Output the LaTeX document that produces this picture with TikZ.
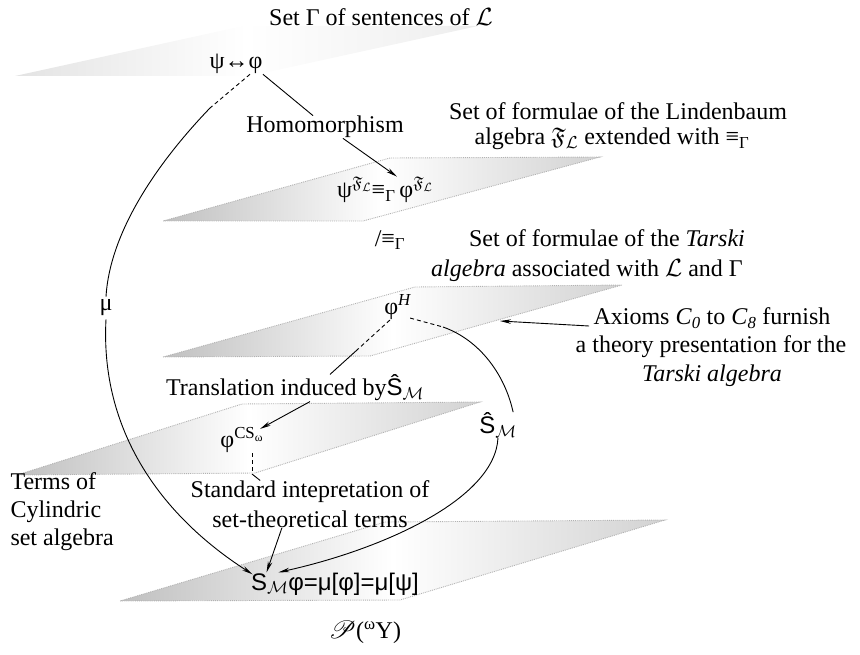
\documentclass[tikz,border=0pt]{standalone}
\usepackage{amssymb}
\usepackage{mathrsfs}
\usepackage{fontspec}
\setmainfont{Liberation Serif}
\newfontfamily\sansS{Liberation Sans}
\usetikzlibrary{arrows.meta,calc}
\begin{document}
\begin{tikzpicture}[x=1pt,y=-1pt,
  lbl/.style={font=\fontsize{24}{28}\selectfont, inner sep=0.3pt},
  planefill/.style={left color=gray!50, right color=gray!35, middle color=white},
  faintfill/.style={left color=gray!22, right color=gray!14, middle color=white},
  planeedge/.style={draw=gray!60, densely dotted, line width=0.9pt},
  conn/.style={line width=0.9pt},
  dsh/.style={conn, dash pattern=on 4pt off 3pt},
  arr/.style={conn, -{Stealth[length=11pt,width=4.5pt]}},
]
\useasboundingbox (0,0) rectangle (860,655);

% planes
\shade[faintfill] (15,76) -- (250,76) -- (478,26) -- (243,26) -- cycle;
\shade[planefill] (163,221) -- (363,221) -- (600,157) -- (390,158) -- cycle;
\draw[planeedge] (163,221) -- (363,221) -- (600,157) -- (390,158) -- cycle;
\shade[planefill] (163,357) -- (370,356) -- (622,285) -- (415,287) -- cycle;
\draw[planeedge] (163,357) -- (370,356) -- (622,285) -- (415,287) -- cycle;
\shade[planefill] (17,475) -- (255,473) -- (480,402) -- (242,404) -- cycle;
\draw[planeedge] (17,475) -- (255,473) -- (480,402) -- (242,404) -- cycle;
\shade[planefill] (120,601) -- (400,600) -- (665,520) -- (385,522) -- cycle;
\draw[planeedge] (120,601) -- (400,600) -- (665,520) -- (385,522) -- cycle;

% labels
\node[lbl] (title) at (381,17) {Set Γ of sentences of $\mathcal{L}$};
\node[lbl] (top) at (236,64) {ψ↔φ};
\node[lbl] (homo) at (325,127) {Homomorphism};
\node[lbl] (lind1) at (618,111) {Set of formulae of the Lindenbaum};
\node[lbl] (lind2) at (612,139) {algebra $\mathfrak{F}_{\mathcal{L}}$ extended with ≡\textsubscript{Γ}};
\node[lbl] (eqF) at (385,190) {ψ\textsuperscript{$\mathfrak{F}_{\mathcal{L}}$}≡\textsubscript{Γ}\,φ\textsuperscript{$\mathfrak{F}_{\mathcal{L}}$}};
\node[lbl] (quot) at (390,240) {/≡\textsubscript{Γ}};
\node[lbl] (tar1) at (607,238) {Set of formulae of the \textit{Tarski}};
\node[lbl] (tar2) at (587,271) {\textit{algebra} associated with $\mathcal{L}$ and Γ};
\node[lbl] (phiH) at (398,307) {φ\textsuperscript{\textit{H}}};
\node[lbl, fill=white, inner sep=3pt] (mu) at (106,308) {μ};
\node[lbl] (ax1) at (712,318) {Axioms \textit{C}\textsubscript{\textit{0}} to \textit{C}\textsubscript{\textit{8}} furnish};
\node[lbl] (ax2) at (711,347) {a theory presentation for the};
\node[lbl] (ax3) at (712,376) {\textit{Tarski algebra}};
\node[lbl] (transl) at (295,388) {Translation induced by{\sansS Ŝ}\textsubscript{$\mathcal{M}$}};
\node[lbl] (phiCS) at (242,440) {φ\textsuperscript{CS\textsubscript{ω}}};
\node[lbl] (Shat) at (498,425) {{\sansS Ŝ}\textsubscript{$\mathcal{M}$}};
\node[lbl, align=left, anchor=north west] (terms) at (10,472) {Terms of\\Cylindric\\set algebra};
\node[lbl] (std1) at (310,492) {Standard intepretation of};
\node[lbl] (std2) at (310,519) {set-theoretical terms};
\node[lbl] (SM) at (335,584) {{\sansS S}\textsubscript{$\mathcal{M}$}{\sansS φ=μ[φ]=μ[ψ]}};
\node[lbl] (PY) at (365,632) {$\mathscr{P}$(\textsuperscript{ω}Y)};

% break points
\coordinate (m1) at (210,108);
\coordinate (t1) at (357,350);
\coordinate (s1) at (443,327);
\coordinate (c1) at (252,474);
\coordinate (axtip) at (500,321);

% mu curve
\draw[dsh] ($(top.south)+(14,0)$) -- (m1);
\draw[conn] (m1) .. controls (160,160) and (110,230) .. (mu.north);
\draw[arr] (mu.south) .. controls (100,430) and (160,515) .. ($(SM.north west)+(2,2)$);

% homomorphism
\draw[conn] (top.south east) -- ($(homo.north)+(-12,0)$);
\draw[arr] ($(homo.south)+(18,0)$) -- ($(eqF.north)+(12,0)$);

% axioms
\draw[arr] ($(ax1.west)+(-4,8)$) -- (axtip);

% translation
\draw[dsh] ($(phiH.south west)+(6,0)$) -- (t1);
\draw[conn] (t1) -- ($(transl.north)+(35,0)$);
\draw[arr] ($(transl.south)+(15,0)$) -- ($(phiCS.north east)+(-4,2)$);

% S hat curve
\draw[dsh] ($(phiH.south east)+(-2,-2)$) -- (s1);
\draw[conn] (s1) .. controls (480,340) and (505,375) .. ($(Shat.north east)+(-4,0)$);
\draw[arr] (Shat.south) .. controls (495,500) and (380,550) .. ($(SM.north west)+(28,0)$);

% standard interpretation
\draw[dsh] ($(phiCS.south)+(10,0)$) -- (c1);
\draw[conn] (c1) -- ($(std1.north west)+(70,0)$);
\draw[arr] ($(std2.south west)+(70,0)$) -- ($(SM.north west)+(16,0)$);
\end{tikzpicture}
\end{document}
